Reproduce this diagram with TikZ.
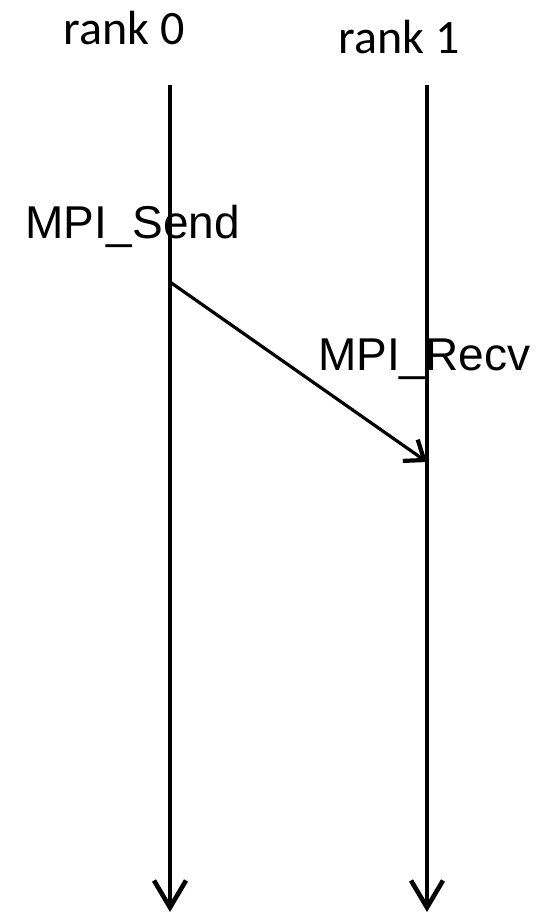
\documentclass[tikz,border=0pt]{standalone}
\usepackage{fontspec}
\setmainfont{Liberation Sans}
\newfontfamily\rankfont{Carlito}
\usetikzlibrary{arrows.meta}
\begin{document}
\begin{tikzpicture}[x=1pt,y=-1pt,
  timeline/.style={line width=3.4pt,-{Straight Barb[length=27pt,width=32pt,line width=4.6pt]}},
  msg/.style={line width=3.2pt,-{Straight Barb[length=17pt,width=26pt,line width=4.2pt]}},
  rank/.style={font=\rankfont\fontsize{48}{58}\selectfont,anchor=base,inner sep=0pt},
  call/.style={font=\fontsize{46}{55}\selectfont,anchor=base west,inner sep=0pt}]
\useasboundingbox (0,0) rectangle (547,915);
\node[rank] (rank0) at (124,45) {rank 0};
\node[rank] (rank1) at (399,54) {rank 1};
\coordinate (top0) at (170,85);
\coordinate (end0) at (170,912);
\coordinate (top1) at (427,85);
\coordinate (end1) at (427,912);
\coordinate (send) at (170,282);
\coordinate (recv) at (427,462);
\draw[timeline] (top0)--(end0);
\draw[timeline] (top1)--(end1);
\draw[msg] (send)--(recv);
\node[call] (sendlbl) at (25,238) {MPI\_Send};
\node[call] (recvlbl) at (318,370) {MPI\_Recv};
\end{tikzpicture}
\end{document}
